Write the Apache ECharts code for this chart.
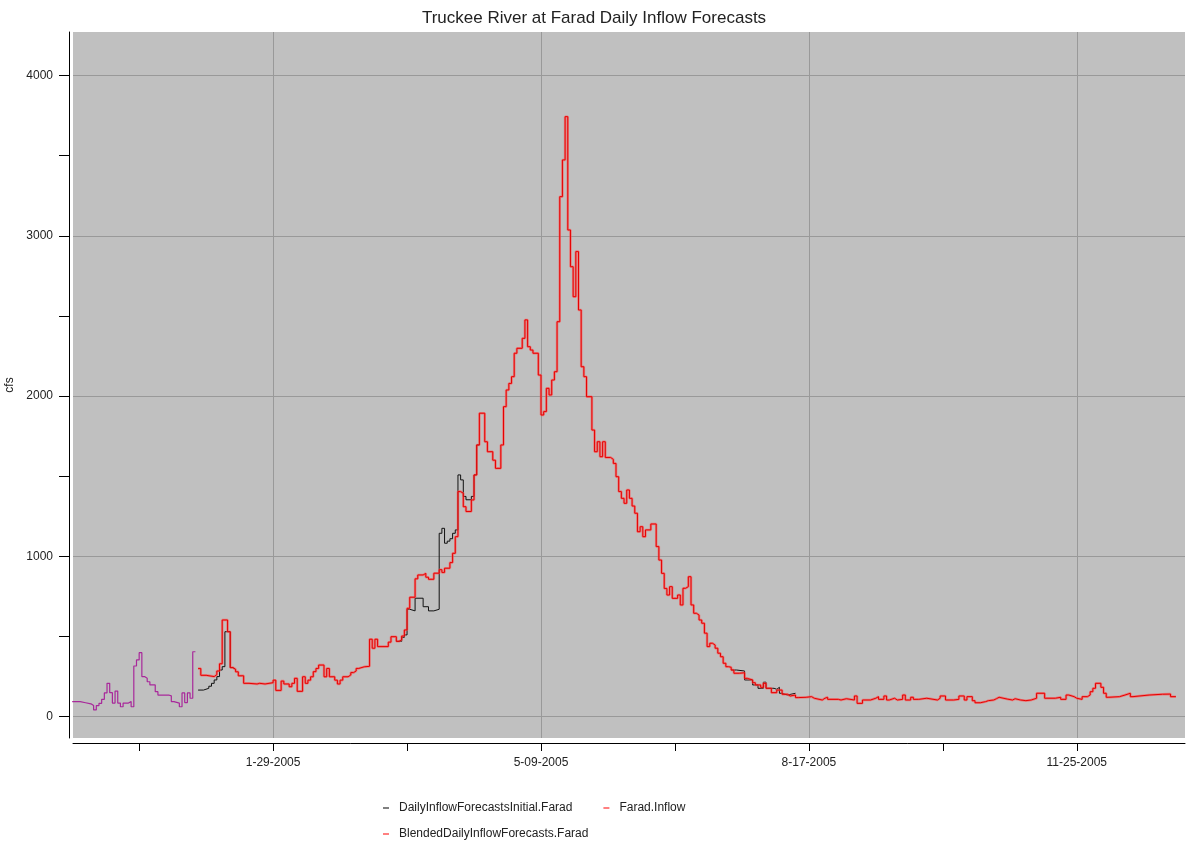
<!DOCTYPE html>
<html>
<head>
<meta charset="utf-8">
<title>Truckee River at Farad Daily Inflow Forecasts</title>
<script src="https://cdn.jsdelivr.net/npm/echarts@6/dist/echarts.min.js"></script>
<style>
  html, body { margin: 0; padding: 0; background: #fff; }
  #chart { width: 1188px; height: 841px; }
</style>
</head>
<body>
<div id="chart"></div>
<script>
// x values are day offsets counted from 2004-11-15
const baseDate = Date.UTC(2004, 10, 15);

const dateTicks = [25, 75, 125, 175, 225, 275, 325, 375];
const dateLabels = [75, 175, 275, 375];
const cfsTicks = [0, 500, 1000, 1500, 2000, 2500, 3000, 3500, 4000];
const cfsLabels = [0, 1000, 2000, 3000, 4000];

// observed flow before the forecast period (purple part)
const historyDay = [0, 3, 5, 7, 8, 9, 10, 11, 12, 13, 14, 15, 16, 17, 18, 19, 21, 22, 23, 24, 25, 26, 27, 28, 29, 31, 32, 36, 37, 38, 40, 41, 42, 43, 44, 45, 46];
const historyCfs = [94, 87, 80, 69, 42, 69, 83, 108, 148, 208, 150, 85, 160, 85, 62, 85, 94, 62, 316, 354, 399, 250, 240, 218, 198, 156, 135, 130, 94, 85, 62, 148, 88, 148, 115, 405, 405];

// Farad.Inflow (the blended forecast lies on top of it)
const inflowDay = [47, 48, 50, 53, 54, 55, 56, 58, 59, 60, 61, 62, 64, 66, 69, 70, 72, 75, 76, 78, 79, 81, 82, 83, 84, 86, 87, 88, 89, 90,
  91, 92, 94, 95, 96, 98, 99, 100, 101, 103, 104, 105, 106, 107, 109, 111, 112, 113, 114, 118, 119, 121, 122, 123, 124, 125, 126, 128, 129, 131,
  132, 133, 135, 137, 138, 139, 141, 142, 143, 144, 145, 146, 147, 149, 150, 151, 152, 154, 155, 157, 158, 160, 161, 162, 163, 164, 165, 166, 168, 169,
  170, 171, 172, 174, 175, 176, 177, 178, 179, 180, 181, 182, 183, 184, 185, 186, 187, 188, 189, 190, 191, 192, 194, 195, 196, 197, 198, 199, 201, 202,
  203, 204, 205, 206, 207, 208, 209, 210, 211, 212, 213, 214, 216, 218, 219, 220, 221, 222, 223, 224, 226, 227, 228, 229, 230, 231, 232, 233, 234, 235,
  236, 237, 238, 239, 240, 241, 242, 243, 244, 245, 246, 247, 249, 251, 252, 254, 255, 257, 258, 259, 261, 263, 265, 267, 268, 270, 271, 274, 276, 277,
  280, 281, 282, 286, 287, 289, 292, 293, 295, 298, 300, 301, 303, 304, 305, 307, 308, 310, 311, 313, 314, 316, 319, 323, 324, 326, 329, 331, 333, 334,
  336, 337, 339, 341, 342, 344, 345, 346, 349, 351, 352, 354, 356, 358, 360, 363, 367, 369, 371, 372, 374, 375, 377, 379, 380, 381, 382, 384, 385, 386,
  387, 391, 393, 395, 396, 402, 407, 410, 412];
const inflowCfs = [300, 258, 250, 262, 285, 330, 603, 530, 306, 295, 280, 255, 208, 204, 208, 204, 212, 228, 164, 222, 204, 187, 208, 239, 158, 249, 208, 228, 249, 281,
  301, 322, 249, 301, 249, 228, 204, 228, 249, 260, 275, 285, 301, 311, 314, 483, 427, 483, 437, 465, 499, 470, 480, 503, 541, 676, 745, 860, 884, 894,
  870, 857, 895, 917, 900, 926, 961, 1019, 1123, 1404, 1394, 1310, 1280, 1352, 1508, 1695, 1893, 1715, 1653, 1600, 1549, 1695, 1934, 2038, 2079, 2121, 2267, 2298, 2360, 2475,
  2308, 2287, 2267, 2131, 1882, 1903, 2048, 2007, 2100, 2152, 2464, 3244, 3473, 3743, 3036, 2807, 2620, 2901, 2537, 2183, 2121, 1996, 1788, 1653, 1715, 1622, 1715, 1617, 1605, 1580,
  1497, 1404, 1362, 1331, 1414, 1362, 1314, 1269, 1154, 1185, 1123, 1165, 1202, 1061, 977, 894, 800, 759, 811, 738, 759, 697, 801, 811, 873, 697, 645, 634, 603, 583,
  521, 437, 458, 447, 427, 396, 374, 333, 312, 308, 291, 271, 274, 239, 229, 212, 198, 183, 208, 177, 150, 166, 140, 129, 135, 119, 121, 125, 115, 104,
  115, 121, 108, 104, 112, 104, 129, 83, 104, 115, 125, 108, 129, 104, 115, 104, 108, 135, 104, 121, 108, 115, 104, 115, 129, 104, 108, 129, 104, 125,
  100, 87, 94, 100, 104, 112, 121, 110, 104, 112, 104, 100, 104, 115, 146, 115, 121, 108, 135, 125, 115, 108, 125, 135, 156, 177, 208, 183, 146, 121,
  125, 135, 146, 125, 135, 140, 141, 125, 125];

// DailyInflowForecastsInitial: only where it leaves the red lines (null = hidden under red)
const initialDay = [47, 49, 51, 52, 53, 54, 55, 56, 57, 59, 60, 61,
  121, 123, 124, 125, 126, 128, 131, 133, 135, 137, 138, 139, 140, 141, 142, 143, 144, 145, 146, 147, 149, 150, 151, 152,
  246, 248, 251, 254, 256, 258, 259, 262, 263, 264, 265, 267, 270];
const initialCfs = [166, 177, 190, 208, 229, 250, 291, 312, 530, 306, 295, null,
  470, 495, 510, 670, 660, 739, 686, 660, 670, 1144, 1175, 1082, 1095, 1110, 1144, 1165, 1508, 1477, 1374, 1353, 1374, 1508, 1695, null,
  291, 285, 229, 198, 177, 215, 177, 171, 183, 146, 135, 146, 146];

const font = "'Liberation Sans', Arial, sans-serif";

function toPairs(days, vals) {
  return days.map((d, i) => [d, vals[i]]);
}

function fmtDate(d) {
  const t = new Date(baseDate + d * 864e5);
  return (t.getUTCMonth() + 1) + '-' + String(t.getUTCDate()).padStart(2, '0') + '-' + t.getUTCFullYear();
}

const chart = echarts.init(document.getElementById('chart'));

const option = {
  backgroundColor: '#fff',
  animation: false,
  title: {
    text: 'Truckee River at Farad Daily Inflow Forecasts',
    left: 'center',
    top: 5,
    textStyle: { fontFamily: font, fontSize: 17, fontWeight: 'normal', color: '#222' }
  },
  grid: {
    left: 73, right: 3, top: 32, bottom: 103,
    outerBoundsMode: 'none',
    containLabel: false,
    show: true, backgroundColor: '#c0c0c0', borderWidth: 0
  },
  legend: [
    {
      data: [
        { name: 'DailyInflowForecastsInitial.Farad', itemStyle: { color: '#000' } },
        { name: 'Farad.Inflow', itemStyle: { color: '#ff0000' } }
      ],
      left: 378, top: 797,
      icon: 'rect', itemWidth: 6, itemHeight: 1, itemGap: 31,
      textStyle: { fontFamily: font, fontSize: 12, color: '#222', padding: [0, 0, 0, 5] }
    },
    {
      data: [
        { name: 'BlendedDailyInflowForecasts.Farad', itemStyle: { color: '#ff0000' } }
      ],
      left: 378, top: 823,
      icon: 'rect', itemWidth: 6, itemHeight: 1,
      textStyle: { fontFamily: font, fontSize: 12, color: '#222', padding: [0, 0, 0, 5] }
    }
  ],
  xAxis: [
    {
      type: 'value', min: 0.3, max: 415.4, position: 'bottom', offset: 5,
      axisLine: { onZero: false, lineStyle: { color: '#000' } },
      axisTick: { length: 8, customValues: dateTicks, lineStyle: { color: '#000' } },
      axisLabel: { customValues: dateLabels, formatter: fmtDate, margin: 14, color: '#222', fontFamily: font, fontSize: 12 },
      splitLine: { show: false }
    },
    {
      type: 'value', min: 0.3, max: 415.4, position: 'bottom',
      axisLine: { show: false, onZero: false },
      axisTick: { show: false, customValues: dateLabels },
      axisLabel: { show: false },
      splitLine: { show: true, lineStyle: { color: '#999' } }
    }
  ],
  yAxis: [
    {
      type: 'value', min: -133, max: 4271, position: 'left', offset: 4,
      name: 'cfs', nameLocation: 'middle', nameRotate: 90, nameGap: 48,
      nameTextStyle: { fontFamily: font, fontSize: 12, color: '#222' },
      axisLine: { show: true, onZero: false, lineStyle: { color: '#000' } },
      axisTick: { show: true, length: 10, customValues: cfsTicks, lineStyle: { color: '#000' } },
      axisLabel: { customValues: cfsLabels, formatter: v => String(v), margin: 16, color: '#222', fontFamily: font, fontSize: 12 },
      splitLine: { show: false }
    },
    {
      type: 'value', min: -133, max: 4271, position: 'left',
      axisLine: { show: false, onZero: false },
      axisTick: { show: false, customValues: cfsLabels },
      axisLabel: { show: false },
      splitLine: { show: true, lineStyle: { color: '#999' } }
    }
  ],
  series: [
    {
      name: 'DailyInflowForecastsInitial.Farad',
      type: 'line', step: 'end', showSymbol: false, connectNulls: false,
      itemStyle: { color: '#000' },
      lineStyle: { color: '#111', width: 1 },
      data: toPairs(initialDay, initialCfs)
    },
    {
      name: 'BlendedDailyInflowForecasts.Farad',
      type: 'line', step: 'end', showSymbol: false,
      itemStyle: { color: '#ff0000' },
      lineStyle: { color: 'rgba(255, 80, 80, 0.6)', width: 2.5 },
      data: toPairs(inflowDay, inflowCfs)
    },
    {
      name: 'Farad.Inflow',
      type: 'line', step: 'end', showSymbol: false,
      itemStyle: { color: '#ff0000' },
      lineStyle: { color: '#e60000', width: 1 },
      data: toPairs(inflowDay, inflowCfs)
    },
    {
      name: 'Farad.Inflow history',
      type: 'line', step: 'end', showSymbol: false,
      itemStyle: { color: '#a8289a' },
      lineStyle: { color: '#a8289a', width: 1.2 },
      data: toPairs(historyDay, historyCfs)
    }
  ]
};

chart.setOption(option);
</script>
</body>
</html>
